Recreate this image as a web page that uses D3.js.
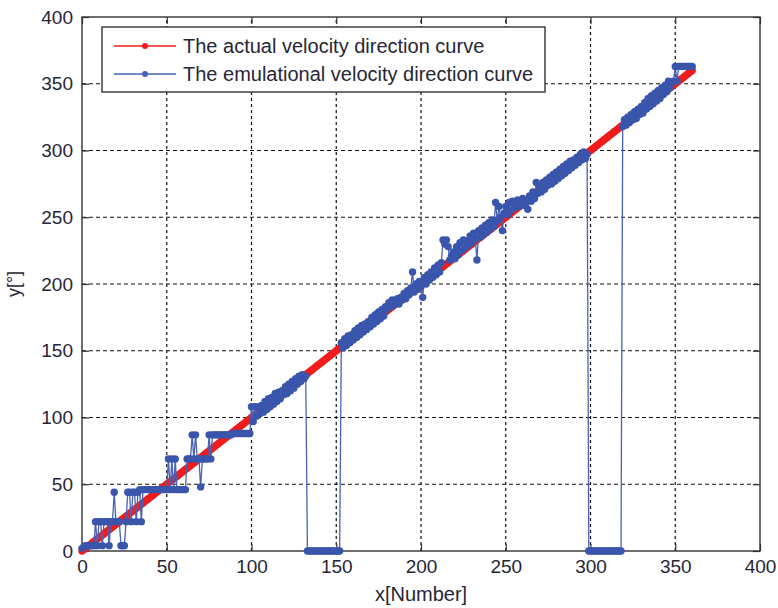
<!DOCTYPE html>
<html>
<head>
<meta charset="utf-8">
<script src="https://cdn.jsdelivr.net/npm/d3@7"></script>
<style>
  body { margin: 0; background: #fff; }
  text { font-family: "Liberation Sans", Arial, sans-serif; fill: #262637; }
</style>
</head>
<body>
<svg id="chart" width="778" height="608"></svg>
<script>
// tick values for both axes
var xTicks = [0, 50, 100, 150, 200, 250, 300, 350, 400];
var yTicks = [0, 50, 100, 150, 200, 250, 300, 350, 400];

var seriesNames = ["The actual velocity direction curve", "The emulational velocity direction curve"];

// actual direction, one value per sample number 0..360
var actual = [
  0,1,2,3,4,5,6,7,8,9,10,11,12,13,14,15,16,17,18,19,
  20,21,22,23,24,25,26,27,28,29,30,31,32,33,34,35,36,37,38,39,
  40,41,42,43,44,45,46,47,48,49,50,51,52,53,54,55,56,57,58,59,
  60,61,62,63,64,65,66,67,68,69,70,71,72,73,74,75,76,77,78,79,
  80,81,82,83,84,85,86,87,88,89,90,91,92,93,94,95,96,97,98,99,
  100,101,102,103,104,105,106,107,108,109,110,111,112,113,114,115,116,117,118,119,
  120,121,122,123,124,125,126,127,128,129,130,131,132,133,134,135,136,137,138,139,
  140,141,142,143,144,145,146,147,148,149,150,151,152,153,154,155,156,157,158,159,
  160,161,162,163,164,165,166,167,168,169,170,171,172,173,174,175,176,177,178,179,
  180,181,182,183,184,185,186,187,188,189,190,191,192,193,194,195,196,197,198,199,
  200,201,202,203,204,205,206,207,208,209,210,211,212,213,214,215,216,217,218,219,
  220,221,222,223,224,225,226,227,228,229,230,231,232,233,234,235,236,237,238,239,
  240,241,242,243,244,245,246,247,248,249,250,251,252,253,254,255,256,257,258,259,
  260,261,262,263,264,265,266,267,268,269,270,271,272,273,274,275,276,277,278,279,
  280,281,282,283,284,285,286,287,288,289,290,291,292,293,294,295,296,297,298,299,
  300,301,302,303,304,305,306,307,308,309,310,311,312,313,314,315,316,317,318,319,
  320,321,322,323,324,325,326,327,328,329,330,331,332,333,334,335,336,337,338,339,
  340,341,342,343,344,345,346,347,348,349,350,351,352,353,354,355,356,357,358,359,
  360
];

// emulational direction (same sample numbers)
var emulated = [
  2,3,4,4,4,4,4,4,22,4,
  22,22,4,22,22,22,4,22,22,44,
  22,22,22,4,4,4,22,44,44,22,
  44,44,22,44,46,22,46,46,46,46,
  46,46,46,46,46,46,46,46,46,46,
  46,69,46,69,46,69,46,46,46,46,
  46,46,69,69,69,87,69,87,69,69,
  48,69,69,69,69,87,69,87,87,87,
  87,87,87,87,87,87,87,87,87,88,
  88,88,88,88,88,88,88,88,88,88,
  108,97,108,101,108,103,109,104,112,106,
  114,108,115,110,118,112,119,114,120,117,
  123,118,125,120,127,122,129,125,131,127,
  132,129,131,0,0,0,0,0,0,0,
  0,0,0,0,0,0,0,0,0,0,
  0,0,0,156,152,159,154,161,156,162,
  158,165,160,167,162,169,164,170,166,172,
  168,175,170,177,172,179,174,181,176,183,
  181,186,183,188,184,186,189,185,190,188,
  193,189,195,192,197,209,194,200,196,202,
  198,190,205,200,207,203,209,205,212,207,
  214,209,216,233,230,233,228,218,221,224,
  219,228,222,231,225,233,227,232,229,236,
  231,238,234,218,240,235,242,237,244,239,
  246,241,248,243,261,247,258,250,240,253,
  258,252,261,255,262,257,261,263,258,262,
  264,259,262,256,266,262,269,264,276,268,
  273,269,276,271,278,274,280,275,282,277,
  284,279,286,281,288,283,290,285,292,287,
  293,289,295,291,297,293,299,294,297,0,
  0,0,0,0,0,0,0,0,0,0,
  0,0,0,0,0,0,0,0,0,318,
  323,319,325,321,327,323,329,324,331,327,
  333,328,336,331,339,333,341,335,343,337,
  345,339,347,342,349,344,352,347,351,352,
  363,352,363,363,363,363,363,363,363,363,
  363
];

var svg = d3.select("#chart");

var x = d3.scaleLinear().domain([0, 400]).range([82, 760]);
var y = d3.scaleLinear().domain([0, 400]).range([551, 17]);

// dashed grid
svg.append("g").selectAll("line")
  .data(xTicks.slice(1, -1))
  .enter().append("line")
    .attr("x1", function(d) { return x(d); })
    .attr("x2", function(d) { return x(d); })
    .attr("y1", y(0))
    .attr("y2", y(400))
    .attr("stroke", "#111")
    .attr("stroke-width", 1.2)
    .attr("stroke-dasharray", "3,3");

svg.append("g").selectAll("line")
  .data(yTicks.slice(1, -1))
  .enter().append("line")
    .attr("x1", x(0))
    .attr("x2", x(400))
    .attr("y1", function(d) { return y(d); })
    .attr("y2", function(d) { return y(d); })
    .attr("stroke", "#111")
    .attr("stroke-width", 1.2)
    .attr("stroke-dasharray", "4,3");

// axes, ticks pointing inside on all four sides
function styleAxis(g) {
  g.select(".domain").remove();
  g.selectAll(".tick line").attr("stroke", "#333").attr("stroke-width", 1.2);
  g.selectAll("text").attr("font-size", 19).attr("fill", "#262637");
}

svg.append("g")
  .attr("transform", "translate(0," + y(0) + ")")
  .call(d3.axisBottom(x).tickValues(xTicks).tickSize(-7).tickPadding(9))
  .call(styleAxis);

svg.append("g")
  .attr("transform", "translate(0," + y(400) + ")")
  .call(d3.axisTop(x).tickValues(xTicks).tickSize(-7).tickFormat(""))
  .call(styleAxis);

svg.append("g")
  .attr("transform", "translate(" + x(0) + ",0)")
  .call(d3.axisLeft(y).tickValues(yTicks).tickSize(-7).tickPadding(9))
  .call(styleAxis);

svg.append("g")
  .attr("transform", "translate(" + x(400) + ",0)")
  .call(d3.axisRight(y).tickValues(yTicks).tickSize(-7).tickFormat(""))
  .call(styleAxis);

// plot box
svg.append("rect")
  .attr("x", x(0))
  .attr("y", y(400))
  .attr("width", x(400) - x(0))
  .attr("height", y(0) - y(400))
  .attr("fill", "none")
  .attr("stroke", "#333")
  .attr("stroke-width", 1.4);

var line = d3.line()
  .x(function(d, i) { return x(i); })
  .y(function(d) { return y(d); });

// actual curve (red)
svg.append("path")
  .datum(actual)
  .attr("d", line)
  .attr("fill", "none")
  .attr("stroke", "#f01c1c")
  .attr("stroke-width", 1.5);

svg.append("g").selectAll("circle")
  .data(actual)
  .enter().append("circle")
    .attr("cx", function(d, i) { return x(i); })
    .attr("cy", function(d) { return y(d); })
    .attr("r", 3.7)
    .attr("fill", "#f01c1c");

// emulational curve (blue)
svg.append("path")
  .datum(emulated)
  .attr("d", line)
  .attr("fill", "none")
  .attr("stroke", "#4862b8")
  .attr("stroke-width", 1.3);

svg.append("g").selectAll("circle")
  .data(emulated)
  .enter().append("circle")
    .attr("cx", function(d, i) { return x(i); })
    .attr("cy", function(d) { return y(d); })
    .attr("r", 3.7)
    .attr("fill", "#3a55ac");

// axis titles
svg.append("text")
  .attr("x", (x(0) + x(400)) / 2)
  .attr("y", 601)
  .attr("text-anchor", "middle")
  .attr("font-size", 20)
  .text("x[Number]");

svg.append("text")
  .attr("transform", "translate(20," + (y(0) + y(400)) / 2 + ") rotate(-90)")
  .attr("text-anchor", "middle")
  .attr("font-size", 18)
  .text("y[°]");

// legend
var legend = svg.append("g");
legend.append("rect")
  .attr("x", 102).attr("y", 27)
  .attr("width", 443).attr("height", 65)
  .attr("fill", "#fff")
  .attr("stroke", "#333")
  .attr("stroke-width", 1.4);

var legendColors = ["#f01c1c", "#4862b8"];
seriesNames.forEach(function(name, i) {
  var ly = 46 + i * 28;
  legend.append("line")
    .attr("x1", 114).attr("x2", 176)
    .attr("y1", ly).attr("y2", ly)
    .attr("stroke", legendColors[i])
    .attr("stroke-width", 1.4);
  legend.append("circle")
    .attr("cx", 145).attr("cy", ly).attr("r", 3)
    .attr("fill", legendColors[i]);
  legend.append("text")
    .attr("x", 183).attr("y", ly + 7)
    .attr("font-size", 20)
    .text(name);
});
</script>
</body>
</html>
